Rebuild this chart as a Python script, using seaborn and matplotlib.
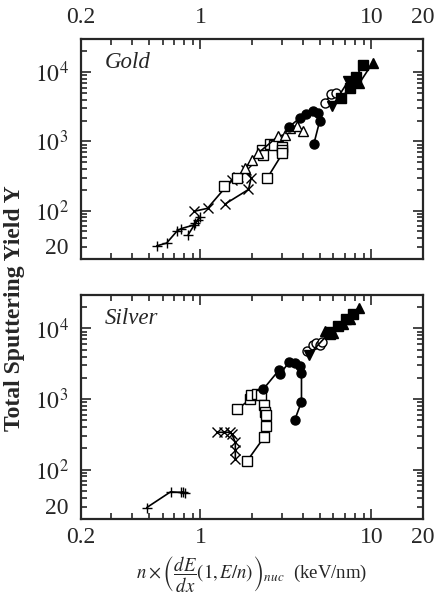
import numpy as np
import pandas as pd
import seaborn as sns
import matplotlib
matplotlib.use("Agg")
import matplotlib.pyplot as plt
from matplotlib.ticker import LogLocator, NullFormatter

sns.set_style("ticks")
plt.rcParams['font.family'] = ['Liberation Serif', 'DejaVu Serif']
plt.rcParams['mathtext.fontset'] = 'stix'

# ---- Gold (nuclear stopping x, yield y) ----
au_plus_x = [0.555, 0.634, 0.731, 0.772, 0.914, 0.99, 0.964, 0.935, 0.848]
au_plus_y = [31, 34, 51, 55, 62, 80, 73, 66, 45]
au_cross_x = [0.914, 1.10, 1.53, 1.66, 1.85, 1.98, 1.91, 1.39]
au_cross_y = [97.5, 108, 280, 308, 388, 298, 202, 124]
au_osq_x = [1.37, 1.63, 2.28, 2.32, 2.55, 2.68, 2.99, 3.0, 3.02, 2.46]
au_osq_y = [230, 296, 762, 627, 928, 878, 830, 745, 670, 296]
au_otri_x = [1.83, 2.0, 2.17, 2.84, 3.12, 3.34, 3.66, 3.97]
au_otri_y = [414, 538, 676, 1178, 1256, 1580, 1687, 1432]
au_fcirc_x = [3.31, 3.81, 4.17, 4.56, 4.85, 4.99, 4.60]
au_fcirc_y = [1633, 2168, 2472, 2755, 2576, 1988, 906]
au_ocirc_x = [5.33, 5.83, 6.18]
au_ocirc_y = [3573, 4842, 5000]
au_ftri_dn_x = [5.91, 7.3, 8.18]
au_ftri_dn_y = [3245, 7330, 7100]
au_fsq_x = [6.67, 7.45, 8.15, 8.9]
au_fsq_y = [4250, 5890, 8630, 12650]
au_ftri_x = [7.79, 8.51, 10.2]
au_ftri_y = [7570, 6930, 13770]

# ---- Silver ----
ag_plus_x = [0.485, 0.669, 0.773, 0.786, 0.808]
ag_plus_y = [29, 48.5, 47.5, 48.5, 47]
ag_cross_x = [1.25, 1.37, 1.48, 1.53, 1.6, 1.6, 1.6]
ag_cross_y = [338, 338, 338, 316, 243, 187, 141]
ag_osq_x = [1.64, 1.95, 1.98, 2.14, 2.26, 2.36, 2.39, 2.42, 2.42, 2.36, 1.88]
ag_osq_y = [713, 990, 1140, 1179, 1140, 820, 659, 591, 418, 289, 134]
ag_fcirc_x = [2.33, 2.89, 2.92, 3.3, 3.57, 3.81, 3.9, 3.9, 3.57]
ag_fcirc_y = [1376, 2594, 2275, 3300, 3237, 2893, 2328, 915, 513]
ag_ocirc_x = [4.21, 4.56, 4.77, 4.99, 5.17]
ag_ocirc_y = [4740, 5908, 6250, 5908, 6370]
ag_ftri_dn_x = [4.32, 5.7]
ag_ftri_dn_y = [4253, 8770]
ag_fsq_x = [5.7, 6.37, 7.13, 7.79]
ag_fsq_y = [8210, 10790, 13450, 15850]
ag_ftri_x = [5.33, 5.96, 6.78, 7.45, 8.44]
ag_ftri_y = [9140, 8690, 11400, 13770, 19770]

x_ticks = [0.2, 1, 10, 20]
x_labels = ['0.2', '1', '10', '20']
y_ticks = [20, 100, 1000, 10000]
y_labels = ['20', r'$10^2$', r'$10^3$', r'$10^4$']

# marker style per series: (marker, filled)
styles = {
    'plus': ('+', True), 'cross': ('x', True), 'osq': ('s', False),
    'otri': ('^', False), 'fcirc': ('o', True), 'ocirc': ('o', False),
    'ftri_dn': ('v', True), 'fsq': ('s', True), 'ftri': ('^', True),
}

gold = {
    'plus': (au_plus_x, au_plus_y), 'cross': (au_cross_x, au_cross_y),
    'osq': (au_osq_x, au_osq_y), 'otri': (au_otri_x, au_otri_y),
    'fcirc': (au_fcirc_x, au_fcirc_y), 'ocirc': (au_ocirc_x, au_ocirc_y),
    'ftri_dn': (au_ftri_dn_x, au_ftri_dn_y), 'fsq': (au_fsq_x, au_fsq_y),
    'ftri': (au_ftri_x, au_ftri_y),
}
silver = {
    'plus': (ag_plus_x, ag_plus_y), 'cross': (ag_cross_x, ag_cross_y),
    'osq': (ag_osq_x, ag_osq_y), 'fcirc': (ag_fcirc_x, ag_fcirc_y),
    'ocirc': (ag_ocirc_x, ag_ocirc_y), 'ftri_dn': (ag_ftri_dn_x, ag_ftri_dn_y),
    'fsq': (ag_fsq_x, ag_fsq_y), 'ftri': (ag_ftri_x, ag_ftri_y),
}

fig = plt.figure(figsize=(4.4, 6.16), dpi=100)
ax1 = fig.add_axes([0.184, 0.5795, 0.777, 0.357])
ax2 = fig.add_axes([0.184, 0.1575, 0.777, 0.364])


def draw(ax, data, name):
    for key, (xs, ys) in data.items():
        m, filled = styles[key]
        df = pd.DataFrame({'x': xs, 'y': ys})
        sns.lineplot(data=df, x='x', y='y', ax=ax, sort=False, estimator=None,
                     color='black', lw=1.2, marker=m,
                     markersize=7 if m in '+x' else 6.5,
                     markerfacecolor='black' if filled else 'white',
                     markeredgecolor='black', markeredgewidth=1.0)
    ax.set_xscale('log')
    ax.set_yscale('log')
    ax.set_xlim(0.2, 20)
    ax.set_ylim(20, 3e4)
    ax.set_xticks(x_ticks)
    ax.set_xticklabels(x_labels)
    ax.set_yticks(y_ticks)
    ax.set_yticklabels(y_labels)
    ax.xaxis.set_minor_locator(LogLocator(base=10, subs=np.arange(2, 10), numticks=20))
    ax.yaxis.set_minor_locator(LogLocator(base=10, subs=np.arange(2, 10), numticks=20))
    ax.xaxis.set_minor_formatter(NullFormatter())
    ax.yaxis.set_minor_formatter(NullFormatter())
    ax.tick_params(which='both', direction='in', top=True, right=True,
                   labelsize=17, width=1.2)
    ax.tick_params(which='major', length=7)
    ax.tick_params(which='minor', length=4)
    ax.tick_params(axis='y', pad=9)
    ax.tick_params(axis='x', pad=6)
    ax.get_yticklabels()[0].set_va('bottom')
    ax.set_xlabel('')
    ax.set_ylabel('')
    for s in ax.spines.values():
        s.set_linewidth(1.6)
    ax.text(0.07, 0.94, name, transform=ax.transAxes, fontsize=16.5,
            style='italic', va='top', ha='left')


draw(ax1, gold, 'Gold')
draw(ax2, silver, 'Silver')

ax1.tick_params(axis='x', labeltop=True, labelbottom=False, pad=8)

ax2.set_xlabel(r'$n\times\left(\dfrac{dE}{dx}(1,E/n)\right)_{nuc}$  (keV/nm)',
               fontsize=13.5, labelpad=4)
fig.text(0.032, 0.5, 'Total Sputtering Yield Y', rotation=90, fontsize=17,
         fontweight='bold', va='center', ha='center')

fig.savefig('out.png', dpi=100)
